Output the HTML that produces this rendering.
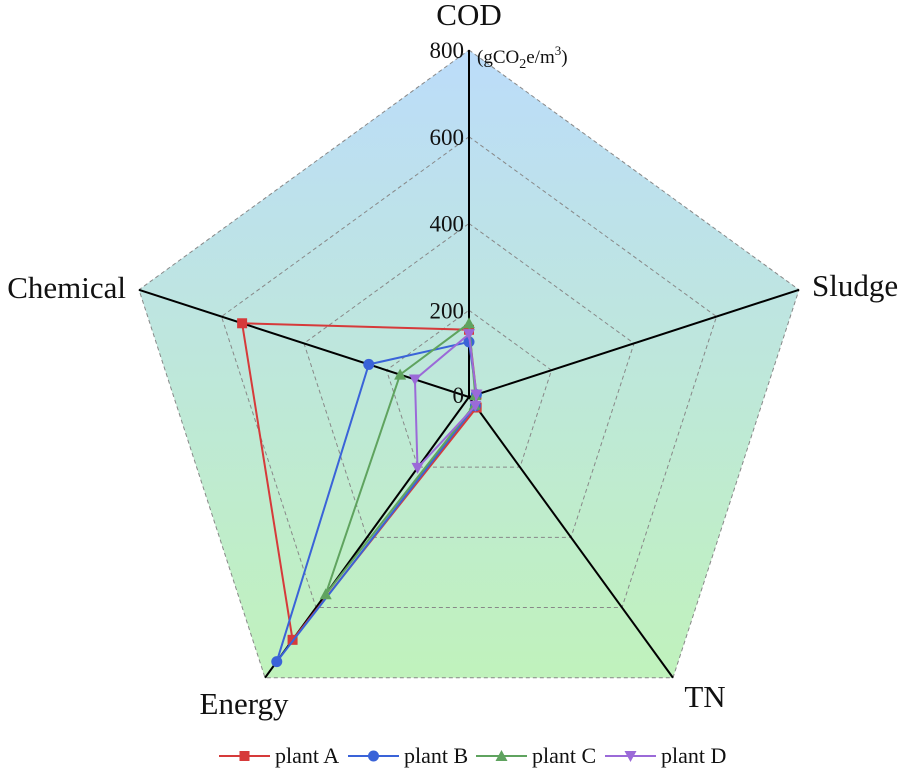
<!DOCTYPE html>
<html><head><meta charset="utf-8"><style>
body{margin:0;background:#fff}
svg{display:block;font-family:"Liberation Serif",serif}
</style></head><body>
<svg id="chart" width="905" height="772" viewBox="0 0 905 772">
<defs><linearGradient id="bg" x1="0" y1="0" x2="0" y2="1">
<stop offset="0" stop-color="#bcdcfa"/><stop offset="1" stop-color="#c0f2bc"/></linearGradient></defs>
<g id="g"></g>
</svg>
<script>
const axes=["COD","Sludge","TN","Energy","Chemical"];
const ticks=[0,200,400,600,800];
const plantA=[155,18,30,692,550];
const plantB=[127,18,25,754,243];
const plantC=[170,15,22,562,167];
const plantD=[145,18,25,202,131];
const seriesNames=["plant A","plant B","plant C","plant D"];
const colors=["#d63a3a","#3a63d8","#5fa35f","#9b6ad8"];
const series=[plantA,plantB,plantC,plantD];
const cx=469,cy=397,R=347,max=800;
const NS="http://www.w3.org/2000/svg";
const g=document.getElementById('g');
function ang(i){return -Math.PI/2+i*2*Math.PI/5;}
function pt(i,v){const r=v/max*R;return [cx+r*Math.cos(ang(i)),cy+r*Math.sin(ang(i))];}
function mk(t,a,p){const e=document.createElementNS(NS,t);for(const k in a)e.setAttribute(k,a[k]);(p||g).appendChild(e);return e;}
function poly(v){return axes.map((_,i)=>pt(i,v).join(',')).join(' ');}
let bg=mk('polygon',{points:poly(max),fill:'url(#bg)'});


ticks.slice(1).forEach(t=>{const e=mk('polygon',{points:poly(t),fill:'none',stroke:'#888','stroke-width':1,'stroke-dasharray':'4,3'});

});
axes.forEach((a,i)=>{const p=pt(i,max);const e=mk('line',{x1:cx,y1:cy,x2:p[0],y2:p[1],stroke:'#000','stroke-width':2});

});
ticks.forEach(t=>{const p=pt(0,t);const e=mk('text',{x:p[0]-5,y:p[1]+(t==0?6:8),'text-anchor':'end','font-size':23,fill:'#111'});e.textContent=t;

});
const unit=mk('text',{x:477,y:63,'font-size':19,fill:'#111'});
unit.innerHTML='(gCO<tspan dy="5" font-size="14">2</tspan><tspan dy="-5">e/m</tspan><tspan dy="-8" font-size="13">3</tspan><tspan dy="8">)</tspan>';


const lp=[[469,25,'middle'],[812,296,'start'],[705,707,'middle'],[244,714,'middle'],[126,298,'end']];
axes.forEach((a,i)=>{const e=mk('text',{x:lp[i][0],y:lp[i][1],'text-anchor':lp[i][2],'font-size':31,fill:'#111'});e.textContent=a;

});
function marker(k,x,y,parent){const c=colors[k];let e;
if(k==0)e=mk('rect',{x:x-5,y:y-5,width:10,height:10,fill:c},parent);
else if(k==1)e=mk('circle',{cx:x,cy:y,r:5.5,fill:c},parent);
else if(k==2)e=mk('polygon',{points:`${x},${y-6} ${x-6},${y+5} ${x+6},${y+5}`,fill:c},parent);
else e=mk('polygon',{points:`${x},${y+6} ${x-6},${y-5} ${x+6},${y-5}`,fill:c},parent);return e;}
series.forEach((s,k)=>{const sg=mk('g',{});


const pts=s.map((v,i)=>pt(i,v));
mk('polygon',{points:pts.map(p=>p.join(',')).join(' '),fill:'none',stroke:colors[k],'stroke-width':2},sg);
pts.forEach((p,i)=>{const m=marker(k,p[0],p[1],sg);

});});
const lx=[219,348,476,605];
seriesNames.forEach((n,k)=>{const lg=mk('g',{});


mk('line',{x1:lx[k],y1:756,x2:lx[k]+51,y2:756,stroke:colors[k],'stroke-width':2},lg);
marker(k,lx[k]+25.5,756,lg);
const t=mk('text',{x:lx[k]+56,y:763,'font-size':22,fill:'#111'},lg);t.textContent=n;});
</script>
</body></html>
